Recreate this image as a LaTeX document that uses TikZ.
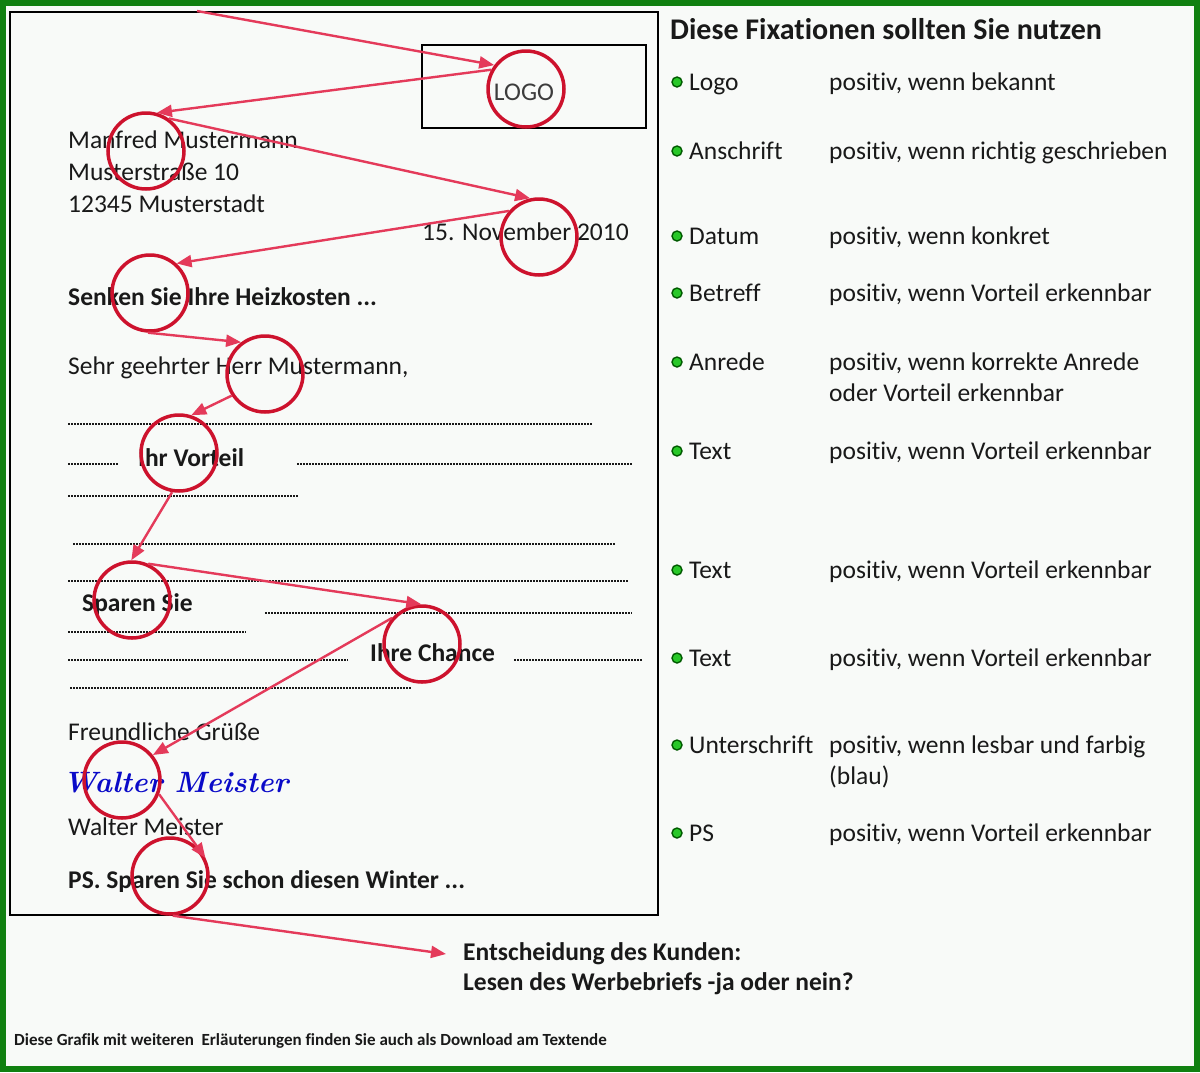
\documentclass[tikz,border=0pt]{standalone}
\usepackage{fontspec}
\newfontfamily\cf[Ligatures={NoCommon}]{Carlito}
\usetikzlibrary{arrows.meta}
\definecolor{bg}{RGB}{248,250,248}
\definecolor{frame}{RGB}{16,128,16}
\definecolor{circ}{RGB}{205,18,45}
\definecolor{arr}{RGB}{228,58,90}
\definecolor{ink}{RGB}{25,25,25}
\definecolor{dotg}{RGB}{40,200,40}
\definecolor{dotb}{RGB}{0,90,0}
\definecolor{sig}{RGB}{10,10,200}
\tikzset{
 txt/.style={anchor=base west, inner sep=0, text=ink, font=\cf\fontsize{25.5}{30}\selectfont},
 btxt/.style={txt, font=\cf\bfseries\fontsize{25.5}{30}\selectfont},
 fix/.style={circle, draw=circ, line width=3.5pt, minimum size=76pt, inner sep=0},
 eye/.style={draw=arr, line width=2.4pt, -{Triangle[length=15pt,width=12pt]}},
 dots/.style={draw=ink, line width=1.8pt, dash pattern=on 1.5pt off 1.5pt},
 bul/.style={circle, fill=dotg, draw=dotb, line width=1.4pt, minimum size=10pt, inner sep=0},
}
\begin{document}
\begin{tikzpicture}[x=1pt,y=-1pt]
% background and frame
\fill[bg] (0,0) rectangle (1200,1072);
\useasboundingbox (0,0) rectangle (1200,1072);
\draw[frame, line width=6pt] (3,3) rectangle (1197,1069);
% letter
\draw[black, line width=2pt] (10,12) rectangle (658,915);
\draw[black, line width=2pt] (422,45) rectangle (646,128);
\node[anchor=base, inner sep=0, text={rgb,255:red,60;green,60;blue,60}, font=\cf\fontsize{25.5}{30}\selectfont] (logotxt) at (524,100) {LOGO};
\node[txt] (adr1) at (68,148) {Manfred Mustermann};
\node[txt] (adr2) at (68,180) {Musterstraße 10};
\node[txt] (adr3) at (68,212) {12345 Musterstadt};
\node[txt] (date) at (422,240) {15. November 2010};
\node[btxt] (subj) at (68,305) {Senken Sie Ihre Heizkosten ...};
\node[txt] (salut) at (68,374) {Sehr geehrter Herr Mustermann,};
\node[btxt] (vorteil) at (138,466) {Ihr Vorteil};
\node[btxt] (sparen) at (82,611) {Sparen Sie};
\node[btxt] (chancetxt) at (370,661) {Ihre Chance};
\node[txt] (gruss) at (68,740) {Freundliche Grüße};
\node[anchor=base west, inner sep=0, text=sig, font=\rmfamily\bfseries\itshape\fontsize{29.4}{34}\selectfont] (sign) at (63,792) {Walter Meister};
\node[txt] (name) at (68,835) {Walter Meister};
\node[btxt] (pstxt) at (68,888) {PS. Sparen Sie schon diesen Winter ...};
% dotted text lines
\draw[dots] (68,424) -- (593,424);
\draw[dots] (68,464) -- (118,464);
\draw[dots] (297,464) -- (633,464);
\draw[dots] (68,496) -- (298,496);
\draw[dots] (73,544) -- (615,544);
\draw[dots] (68,581) -- (628,581);
\draw[dots] (265,613) -- (632,613);
\draw[dots] (68,632) -- (246,632);
\draw[dots] (68,660) -- (348,660);
\draw[dots] (514,660) -- (642,660);
\draw[dots] (70,688) -- (412,688);
% fixation circles
\node[fix] (logo) at (526,89) {};
\node[fix] (man) at (146,151) {};
\node[fix] (nov) at (539,237) {};
\node[fix] (senk) at (150,293) {};
\node[fix] (herr) at (265,374) {};
\node[fix] (vort) at (179,453) {};
\node[fix] (spar) at (132,600) {};
\node[fix] (chance) at (422,644) {};
\node[fix] (walt) at (122,780) {};
\node[fix] (ps) at (170,876) {};
% eye path
\coordinate (start) at (197,11);
\coordinate (decin) at (446,954);
\draw[eye] (start) -- (logo.143);
\draw[eye] (logo.151) -- (man.74);
\draw[eye] (man.55) -- (nov.103);
\draw[eye] (nov.139) -- (senk.48);
\draw[eye] (senk.-93) -- (herr.127);
\draw[eye] (herr.213) -- (vort.72);
\draw[eye] (vort.-100) -- (spar.91);
\draw[eye] (spar.66) -- (chance.91);
\draw[eye] (chance.139) -- (walt.39);
\draw[eye] (walt.-21) -- (ps.27);
\draw[eye] (ps.-86) -- (decin);
% decision
\node[btxt] (dec1) at (463,960) {Entscheidung des Kunden:};
\node[btxt] (dec2) at (463,990) {Lesen des Werbebriefs -ja oder nein?};
% footnote
\node[anchor=base west, inner sep=0, text=ink, font=\cf\bfseries\fontsize{17}{20}\selectfont] (foot) at (14,1045) {Diese Grafik mit weiteren\ \ Erläuterungen finden Sie auch als Download am Textende};
% right panel
\node[anchor=base west, inner sep=0, text=ink, font=\cf\bfseries\fontsize{30}{35}\selectfont] (title) at (670,39) {Diese Fixationen sollten Sie nutzen};
\node[bul] (b1) at (677,82) {};  \node[txt] (l1) at (689,90) {Logo};  \node[txt] (d1) at (829,90) {positiv, wenn bekannt};
\node[bul] (b2) at (677,151) {}; \node[txt] (l2) at (689,159) {Anschrift}; \node[txt] (d2) at (829,159) {positiv, wenn richtig geschrieben};
\node[bul] (b3) at (677,236) {}; \node[txt] (l3) at (689,244) {Datum}; \node[txt] (d3) at (829,244) {positiv, wenn konkret};
\node[bul] (b4) at (677,293) {}; \node[txt] (l4) at (689,301) {Betreff}; \node[txt] (d4) at (829,301) {positiv, wenn Vorteil erkennbar};
\node[bul] (b5) at (677,362) {}; \node[txt] (l5) at (689,370) {Anrede}; \node[txt] (d5) at (829,370) {positiv, wenn korrekte Anrede};
\node[txt] (d5b) at (829,401) {oder Vorteil erkennbar};
\node[bul] (b6) at (677,451) {}; \node[txt] (l6) at (689,459) {Text}; \node[txt] (d6) at (829,459) {positiv, wenn Vorteil erkennbar};
\node[bul] (b7) at (677,570) {}; \node[txt] (l7) at (689,578) {Text}; \node[txt] (d7) at (829,578) {positiv, wenn Vorteil erkennbar};
\node[bul] (b8) at (677,658) {}; \node[txt] (l8) at (689,666) {Text}; \node[txt] (d8) at (829,666) {positiv, wenn Vorteil erkennbar};
\node[bul] (b9) at (677,745) {}; \node[txt] (l9) at (689,753) {Unterschrift}; \node[txt] (d9) at (829,753) {positiv, wenn lesbar und farbig};
\node[txt] (d9b) at (829,784) {(blau)};
\node[bul] (b10) at (677,833) {}; \node[txt] (l10) at (689,841) {PS}; \node[txt] (d10) at (829,841) {positiv, wenn Vorteil erkennbar};
\end{tikzpicture}
\end{document}
